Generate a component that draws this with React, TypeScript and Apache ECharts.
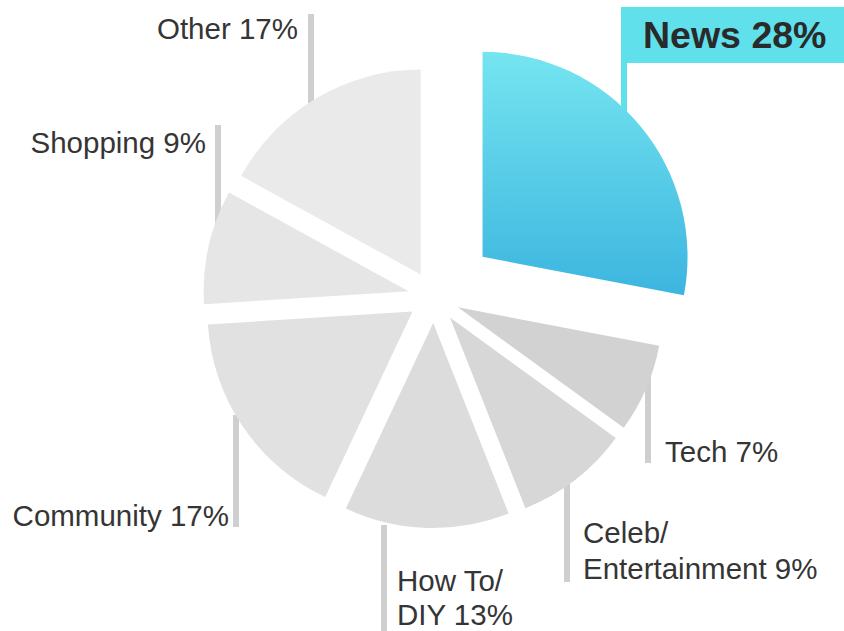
import React, { useEffect, useRef } from 'react';
import * as echarts from 'echarts';

// ---- data ----
const categories = ['News', 'Tech', 'Celeb/\nEntertainment', 'How To/\nDIY', 'Community', 'Shopping', 'Other'];
const values = [28, 7, 9, 13, 17, 9, 17];

// ---- styles ----
const greyColors = ['#d2d2d2', '#d2d2d2', '#d7d7d7', '#dcdcdc', '#e1e1e1', '#e6e6e6', '#eaeaea'];
const CYAN = '#5fe0ea';
const FONT = '"Liberation Sans", Arial, Helvetica, sans-serif';
const CENTER: [number, number] = [434, 297];
const RADIUS = 205;

// label placement (text anchors and vertical leader lines)
const LABEL_LAYOUT = [
  { x: 621, y: 7, align: 'left', va: 'top', lineX: 624, y1: 62, y2: 112, lh: 38 },
  { x: 665, y: 451, align: 'left', va: 'middle', lineX: 648, y1: 367, y2: 463, lh: 35 },
  { x: 583, y: 550, align: 'left', va: 'middle', lineX: 567, y1: 477, y2: 582, lh: 36 },
  { x: 397, y: 597, align: 'left', va: 'middle', lineX: 384, y1: 525, y2: 640, lh: 34 },
  { x: 229, y: 515, align: 'right', va: 'middle', lineX: 236, y1: 415, y2: 527, lh: 35 },
  { x: 206, y: 142, align: 'right', va: 'middle', lineX: 218, y1: 125, y2: 235, lh: 35 },
  { x: 298, y: 28, align: 'right', va: 'middle', lineX: 311, y1: 14, y2: 103, lh: 35 },
];

const TRANSPARENT = 'rgba(0,0,0,0)';

export default function App() {
  const ref = useRef<HTMLDivElement>(null);

  useEffect(() => {
    if (!ref.current) return;
    const chart = echarts.init(ref.current, null, { renderer: 'svg' });

    const newsGradient = new echarts.graphic.LinearGradient(0, 0, 0, 1, [
      { offset: 0, color: '#75e5f0' },
      { offset: 1, color: '#3cb5df' },
    ]);

    const common = {
      type: 'pie' as const,
      center: CENTER,
      radius: RADIUS,
      startAngle: 90,
      clockwise: true,
      silent: true,
      avoidLabelOverlap: false,
      emphasis: { disabled: true },
      select: { itemStyle: { borderWidth: 0 } },
    };

    const option: any = {
      animation: false,
      backgroundColor: '#ffffff',
      series: [
        // grey slices, exploded slightly
        {
          ...common,
          selectedMode: 'multiple',
          selectedOffset: 26,
          label: { show: false },
          labelLine: { show: false },
          data: categories.map((name, i) => ({
            name,
            value: values[i],
            selected: i !== 0,
            itemStyle: { color: i === 0 ? TRANSPARENT : greyColors[i], borderWidth: 0 },
          })),
        },
        // highlighted News slice, exploded further
        {
          ...common,
          selectedMode: 'multiple',
          selectedOffset: 63,
          label: { show: false },
          labelLine: { show: false },
          data: categories.map((name, i) => ({
            name,
            value: values[i],
            selected: i === 0,
            itemStyle: { color: i === 0 ? newsGradient : TRANSPARENT, borderWidth: 0 },
          })),
        },
        // labels and leader lines
        {
          ...common,
          itemStyle: { color: TRANSPARENT, borderWidth: 0 },
          label: {
            show: true,
            position: 'outside',
            formatter: (p: any) => `${p.name} ${p.value}%`,
            color: '#353535',
            fontSize: 29.5,
            lineHeight: 35,
            fontFamily: FONT,
          },
          labelLine: {
            show: true,
            smooth: false,
            lineStyle: { color: '#cfcfcf', width: 6, cap: 'butt' },
          },
          labelLayout: (p: any) => {
            const L = LABEL_LAYOUT[p.dataIndex];
            return {
              x: L.x,
              y: L.y,
              align: L.align,
              verticalAlign: L.va,
              labelLinePoints: [
                [L.lineX, L.y1],
                [L.lineX, L.y2],
                [L.lineX, L.y2],
              ],
            };
          },
          data: categories.map((name, i) => ({
            name,
            value: values[i],
            label: { lineHeight: LABEL_LAYOUT[i].lh },
            ...(i === 0
              ? {
                  label: {
                    fontSize: 37.5,
                    fontWeight: 'bold',
                    color: '#2a2a2a',
                    lineHeight: LABEL_LAYOUT[0].lh,
                    backgroundColor: CYAN,
                    padding: [9, 30, 9, 22],
                  },
                  labelLine: { lineStyle: { color: CYAN, width: 6 } },
                }
              : {}),
          })),
        },
      ],
    };

    chart.setOption(option);
    return () => chart.dispose();
  }, []);

  return (
    <div
      ref={ref}
      style={{ position: 'absolute', left: 0, top: 0, width: 844, height: 631 }}
    />
  );
}
